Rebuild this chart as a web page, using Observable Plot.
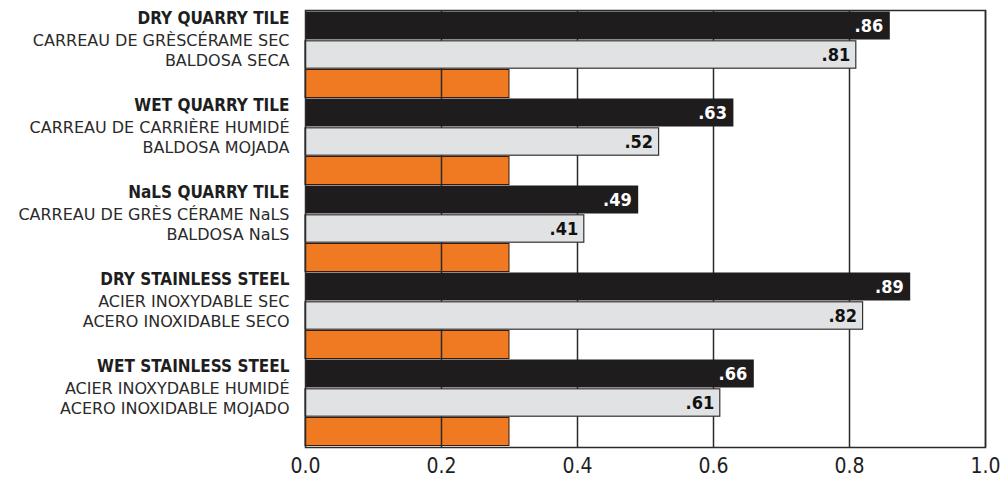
<!DOCTYPE html>
<html>
<head>
<meta charset="utf-8">
<script src="https://cdn.jsdelivr.net/npm/d3@7"></script>
<script src="https://cdn.jsdelivr.net/npm/@observablehq/plot@0.6"></script>
<style>
  html, body { margin: 0; padding: 0; background: #fff; }
  #chart { width: 1004px; height: 480px; }
</style>
</head>
<body>
<div id="chart"></div>
<script>
const groupsEN = ["DRY QUARRY TILE", "WET QUARRY TILE", "NaLS QUARRY TILE", "DRY STAINLESS STEEL", "WET STAINLESS STEEL"];
const groupsFR = ["CARREAU DE GRÈSCÉRAME SEC", "CARREAU DE CARRIÈRE HUMIDÉ", "CARREAU DE GRÈS CÉRAME NaLS", "ACIER INOXYDABLE SEC", "ACIER INOXYDABLE HUMIDÉ"];
const groupsES = ["BALDOSA SECA", "BALDOSA MOJADA", "BALDOSA NaLS", "ACERO INOXIDABLE SECO", "ACERO INOXIDABLE MOJADO"];
const blackValues = [0.86, 0.63, 0.49, 0.89, 0.66];
const grayValues = [0.81, 0.52, 0.41, 0.82, 0.61];
const orangeValues = [0.3, 0.3, 0.3, 0.3, 0.3];
const xTicks = [0, 0.2, 0.4, 0.6, 0.8, 1.0];
const gridValues = [0.2, 0.4, 0.6, 0.8, 1.0];

const rowDomain = groupsEN.flatMap(g => [g + "|a", g + "|b", g + "|c"]);
const blackRows = groupsEN.map((g, i) => ({row: g + "|a", value: blackValues[i], en: g, fr: groupsFR[i]}));
const grayRows = groupsEN.map((g, i) => ({row: g + "|b", value: grayValues[i], es: groupsES[i]}));
const orangeRows = groupsEN.map((g, i) => ({row: g + "|c", value: orangeValues[i]}));
const fmt = d => d3.format(".2f")(d).replace(/^0/, "");

const COND = "'DejaVu Sans Condensed', 'DejaVu Sans', sans-serif";
const REG = "'DejaVu Sans', sans-serif";

const chart = Plot.plot({
  width: 1004,
  height: 480,
  marginLeft: 305,
  marginRight: 19,
  marginTop: 10,
  marginBottom: 33,
  style: {fontFamily: COND, background: "#fff"},
  x: {domain: [0, 1], axis: null},
  y: {domain: rowDomain, axis: null, padding: 0},
  marks: [
    Plot.barX(orangeRows, {x: "value", y: "row", fill: "#ef7a22", stroke: "#3a1a08", strokeWidth: 1, insetTop: 0.5, insetBottom: 0.5}),
    Plot.ruleX(gridValues, {stroke: "#2a2a2a", strokeWidth: 1.5}),
    Plot.barX(blackRows, {x: "value", y: "row", fill: "#1f1c1d", insetTop: 0.5, insetBottom: 0.5}),
    Plot.barX(grayRows, {x: "value", y: "row", fill: "#e1e2e4", stroke: "#333", strokeWidth: 1.2, insetTop: 0.8, insetBottom: 0.8}),
    Plot.frame({stroke: "#2a2a2a", strokeWidth: 1.5}),
    Plot.text(blackRows, {x: "value", y: "row", text: d => fmt(d.value), textAnchor: "end", dx: -7, fill: "#fff", fontWeight: "bold", fontSize: 18, fontFamily: COND}),
    Plot.text(grayRows, {x: "value", y: "row", text: d => fmt(d.value), textAnchor: "end", dx: -6, fill: "#111", fontWeight: "bold", fontSize: 18, fontFamily: COND}),
    Plot.text(blackRows, {y: "row", text: "en", frameAnchor: "left", textAnchor: "end", dx: -16, dy: -7, fill: "#1e1e1e", fontWeight: "bold", fontSize: 17, fontFamily: COND}),
    Plot.text(blackRows, {y: "row", text: "fr", frameAnchor: "left", textAnchor: "end", dx: -16, dy: 15, fill: "#2a2a2a", fontSize: 16, fontFamily: REG}),
    Plot.text(grayRows, {y: "row", text: "es", frameAnchor: "left", textAnchor: "end", dx: -16, dy: 6, fill: "#2a2a2a", fontSize: 16, fontFamily: REG}),
    Plot.text(xTicks, {x: d => d, text: d => d3.format(".1f")(d), frameAnchor: "bottom", dy: 25, fill: "#1e1e1e", fontSize: 21, fontFamily: COND})
  ]
});
document.getElementById("chart").append(chart);
</script>
</body>
</html>
